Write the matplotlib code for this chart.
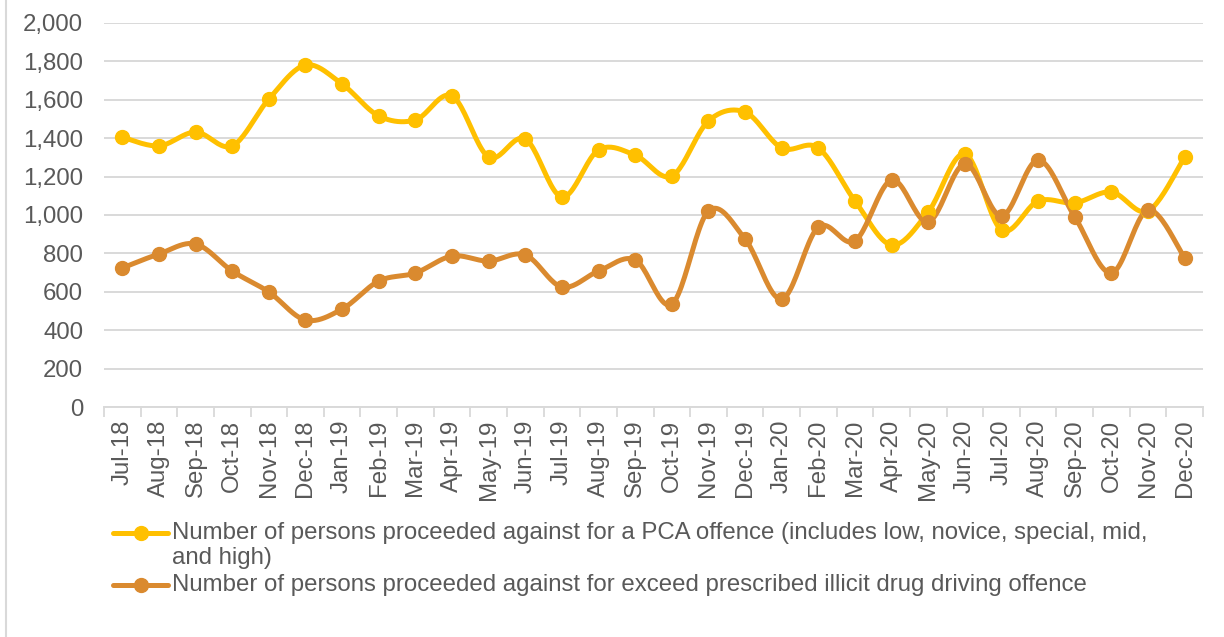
import numpy as np
import matplotlib.pyplot as plt
from matplotlib.lines import Line2D
from matplotlib.ticker import FuncFormatter

months = ['Jul-18', 'Aug-18', 'Sep-18', 'Oct-18', 'Nov-18', 'Dec-18',
          'Jan-19', 'Feb-19', 'Mar-19', 'Apr-19', 'May-19', 'Jun-19',
          'Jul-19', 'Aug-19', 'Sep-19', 'Oct-19', 'Nov-19', 'Dec-19',
          'Jan-20', 'Feb-20', 'Mar-20', 'Apr-20', 'May-20', 'Jun-20',
          'Jul-20', 'Aug-20', 'Sep-20', 'Oct-20', 'Nov-20', 'Dec-20']

pca = [1405, 1360, 1432, 1360, 1604, 1781, 1682, 1516, 1495, 1620,
       1302, 1396, 1094, 1339, 1312, 1203, 1490, 1536, 1349, 1349,
       1073, 844, 1016, 1318, 922, 1073, 1063, 1120, 1021, 1302]

drug = [724, 797, 849, 708, 599, 453, 510, 656, 698, 786,
        760, 792, 625, 708, 766, 536, 1021, 875, 562, 937,
        865, 1182, 964, 1266, 995, 1286, 990, 698, 1026, 776]

pca_label = ('Number of persons proceeded against for a PCA offence (includes low, novice, special, mid,\n'
             'and high)')
drug_label = 'Number of persons proceeded against for exceed prescribed illicit drug driving offence'

yellow = '#FFC000'
orange = '#DA8A2F'
grey_text = '#595959'
grid_col = '#D9D9D9'
fs = 17.3
lw = 3.6
ms = 10

plt.rcParams['font.family'] = ['Liberation Sans', 'DejaVu Sans']


def smooth(x, y, n=24):
    # Catmull-Rom style curve through every point, like a spreadsheet "smoothed line"
    x = np.asarray(x, float)
    y = np.asarray(y, float)
    pts = np.column_stack([x, y])
    ext = np.vstack([pts[0], pts, pts[-1]])
    out = []
    t = np.linspace(0, 1, n)[:, None]
    for i in range(len(pts) - 1):
        p0, p1, p2, p3 = ext[i], ext[i + 1], ext[i + 2], ext[i + 3]
        c1 = p1 + (p2 - p0) / 6
        c2 = p2 - (p3 - p1) / 6
        seg = ((1 - t) ** 3) * p1 + 3 * ((1 - t) ** 2) * t * c1 + 3 * (1 - t) * t ** 2 * c2 + t ** 3 * p2
        out.append(seg if i == 0 else seg[1:])
    out = np.vstack(out)
    return out[:, 0], out[:, 1]


fig = plt.figure(figsize=(12.24, 6.37), dpi=100)
W, H = 1224, 637
ax = fig.add_axes([104 / W, 1 - 407 / H, (1203 - 104) / W, (407 - 23) / H])

x = np.arange(len(months))
for vals, col in [(pca, yellow), (drug, orange)]:
    sx, sy = smooth(x, vals)
    ax.plot(sx, sy, color=col, lw=lw, solid_capstyle='round', zorder=3)
    ax.plot(x, vals, 'o', color=col, ms=ms, zorder=4)

ax.set_xlim(-0.5, len(months) - 0.5)
ax.set_ylim(0, 2000)
ax.set_yticks(np.arange(0, 2001, 200))
ax.yaxis.set_major_formatter(FuncFormatter(lambda v, p: f'{int(v):,}'))
ax.grid(axis='y', color=grid_col, lw=1.4)
ax.set_axisbelow(True)

ax.set_xticks(x)
ax.set_xticklabels(months, rotation=90)
ax.set_xticks(np.arange(-0.5, len(months)), minor=True)
ax.tick_params(axis='x', which='major', length=0, pad=9, labelsize=fs, labelcolor=grey_text)
ax.tick_params(axis='x', which='minor', length=7, width=1.3, color=grid_col, direction='out')
ax.tick_params(axis='y', length=0, pad=15, labelsize=fs, labelcolor=grey_text)

for s in ['top', 'right', 'left']:
    ax.spines[s].set_visible(False)
ax.spines['bottom'].set_color(grid_col)
ax.spines['bottom'].set_linewidth(1.4)

# legend drawn by hand so the key sits on the first line of a wrapped label
for label, col, yrow in [(pca_label, yellow, 533), (drug_label, orange, 585)]:
    yf = 1 - yrow / H
    fig.add_artist(Line2D([113 / W, 168 / W], [yf, yf], color=col, lw=lw,
                          solid_capstyle='round'))
    fig.add_artist(Line2D([140.5 / W], [yf], color=col, marker='o', ms=ms))
    fig.text(172 / W, 1 - (yrow - 11) / H, label, fontsize=fs, color=grey_text,
             ha='left', va='top', linespacing=1.2)

# left border of the chart frame
fig.add_artist(Line2D([6 / W, 6 / W], [0, 1], color=grid_col, lw=1.5))

fig.savefig('out.png', dpi=100)
